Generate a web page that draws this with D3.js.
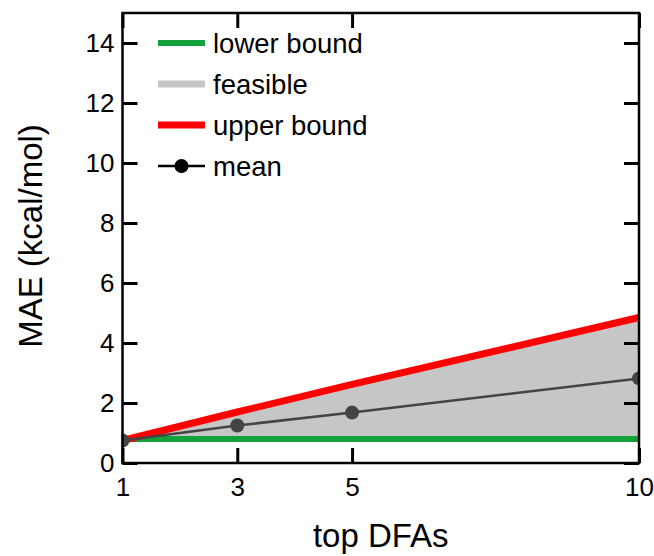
<!DOCTYPE html>
<html>
<head>
<meta charset="utf-8">
<script src="https://cdn.jsdelivr.net/npm/d3@7"></script>
<style>
  body { margin: 0; background: #fff; }
  svg text { font-family: "Liberation Sans", Arial, Helvetica, sans-serif; fill: #000; }
</style>
</head>
<body>
<svg id="chart" width="654" height="556"></svg>
<script>
(function() {
	"use strict";

	// values
	var topDFAs = [1, 3, 5, 10];
	var lowerBound = [0.8, 0.8, 0.8, 0.8];
	var upperBound = [0.75, 1.7, 2.62, 4.85];
	var meanMAE = [0.75, 1.25, 1.68, 2.82];
	var xTicks = [1, 3, 5, 10];
	var yTicks = [0, 2, 4, 6, 8, 10, 12, 14];

	var svg = d3.select("#chart");
	var left = 122.5, right = 639, top = 13, bottom = 463;
	var tickLen = 15;

	var x = d3.scaleLinear().domain([1, 10]).range([left, right]);
	var y = d3.scaleLinear().domain([0, 15]).range([bottom, top]);

	var rows = topDFAs.map(function(d, i) {
		return { x: d, lo: lowerBound[i], hi: upperBound[i], mean: meanMAE[i] };
	});

	var plot = svg.append("g");

	// feasible region
	plot.append("path")
		.datum(rows)
		.attr("fill", "#c6c6c6")
		.attr("d", d3.area()
			.x(function(d) { return x(d.x); })
			.y0(function(d) { return y(d.lo); })
			.y1(function(d) { return y(d.hi); }));

	plot.append("path")
		.datum(rows)
		.attr("fill", "none")
		.attr("stroke", "#13a13a")
		.attr("stroke-width", 6)
		.attr("d", d3.line()
			.x(function(d) { return x(d.x); })
			.y(function(d) { return y(d.lo); }));

	plot.append("path")
		.datum(rows)
		.attr("fill", "none")
		.attr("stroke", "#ff0000")
		.attr("stroke-width", 7)
		.attr("d", d3.line()
			.x(function(d) { return x(d.x); })
			.y(function(d) { return y(d.hi); }));

	plot.append("path")
		.datum(rows)
		.attr("fill", "none")
		.attr("stroke", "#444")
		.attr("stroke-width", 2.5)
		.attr("d", d3.line()
			.x(function(d) { return x(d.x); })
			.y(function(d) { return y(d.mean); }));

	plot.selectAll(".mean-dot").data(rows)
		.enter().append("circle")
		.attr("class", "mean-dot")
		.attr("cx", function(d) { return x(d.x); })
		.attr("cy", function(d) { return y(d.mean); })
		.attr("r", 7)
		.attr("fill", "#444");

	// clip marks to frame by covering outside area
	svg.append("rect").attr("x", right + 1).attr("y", 0).attr("width", 654 - right).attr("height", 556).attr("fill", "#fff");
	svg.append("rect").attr("x", 0).attr("y", 0).attr("width", left - 1).attr("height", 556).attr("fill", "#fff");

	// frame
	svg.append("rect")
		.attr("x", left).attr("y", top)
		.attr("width", right - left).attr("height", bottom - top)
		.attr("fill", "none")
		.attr("stroke", "#000")
		.attr("stroke-width", 2.5);

	// ticks, all pointing inward on every side
	var axes = svg.append("g");
	axes.append("g")
		.attr("transform", "translate(0," + bottom + ")")
		.call(d3.axisBottom(x).tickValues(xTicks).tickSizeInner(-tickLen).tickSizeOuter(0).tickPadding(15));
	axes.append("g")
		.attr("transform", "translate(0," + top + ")")
		.call(d3.axisTop(x).tickValues(xTicks).tickSizeInner(-tickLen).tickSizeOuter(0).tickFormat(""));
	axes.append("g")
		.attr("transform", "translate(" + left + ",0)")
		.call(d3.axisLeft(y).tickValues(yTicks).tickSizeInner(-tickLen).tickSizeOuter(0).tickPadding(8));
	axes.append("g")
		.attr("transform", "translate(" + right + ",0)")
		.call(d3.axisRight(y).tickValues(yTicks).tickSizeInner(-tickLen).tickSizeOuter(0).tickFormat(""));

	axes.selectAll(".domain").remove();
	axes.selectAll(".tick line").attr("stroke", "#000").attr("stroke-width", 3);
	axes.selectAll(".tick text")
		.attr("font-family", "Liberation Sans, Arial, sans-serif")
		.attr("font-size", 26)
		.attr("fill", "#000");

	// axis titles
	svg.append("text")
		.attr("x", (left + right) / 2)
		.attr("y", 547)
		.attr("text-anchor", "middle")
		.attr("font-size", 33)
		.text("top DFAs");

	svg.append("text")
		.attr("transform", "translate(42,236) rotate(-90)")
		.attr("text-anchor", "middle")
		.attr("font-size", 33)
		.text("MAE (kcal/mol)");

	// legend
	var legendData = [
		{ label: "lower bound", type: "line", color: "#13a13a", width: 6 },
		{ label: "feasible", type: "line", color: "#c6c6c6", width: 7 },
		{ label: "upper bound", type: "line", color: "#ff0000", width: 7 },
		{ label: "mean", type: "marker", color: "#000", width: 2.5 }
	];
	var legend = svg.append("g").attr("transform", "translate(158,43)");
	var step = legend.selectAll(".legend-step").data(legendData)
		.enter().append("g")
		.attr("class", "legend-step")
		.attr("transform", function(d, i) { return "translate(0," + (i * 41) + ")"; });
	step.append("line")
		.attr("x1", 0).attr("x2", 47)
		.attr("stroke", function(d) { return d.color; })
		.attr("stroke-width", function(d) { return d.width; });
	step.filter(function(d) { return d.type == "marker"; })
		.append("circle")
		.attr("cx", 23.5).attr("r", 7)
		.attr("fill", "#000");
	step.append("text")
		.attr("x", 55)
		.attr("dy", ".35em")
		.attr("font-size", 27.5)
		.text(function(d) { return d.label; });
})();
</script>
</body>
</html>
